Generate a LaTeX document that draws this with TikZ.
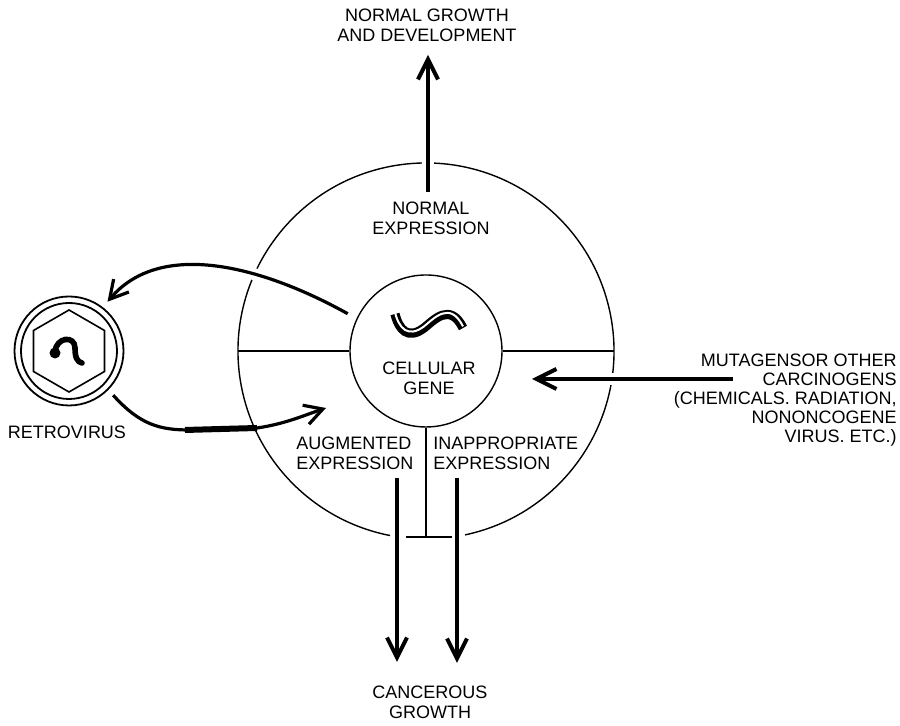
\documentclass[tikz,border=0pt]{standalone}
\usepackage{fontspec}
\setmainfont{Liberation Sans}
\usetikzlibrary{arrows.meta}

\begin{document}
\begin{tikzpicture}[x=0.5pt,y=0.5pt,
    lbl/.style={font=\fontsize{9}{10}\selectfont, inner sep=0pt, align=center},
    ring/.style={line width=0.7pt},
    bigarrow/.style={line width=2pt, -{Straight Barb[length=10pt,width=10pt]}},
    curvearrow/.style={line width=1.6pt, -{Straight Barb[length=9pt,width=10pt]}},
    halo/.style={preaction={draw=white, line width=6pt, -}}]
\useasboundingbox (0,0) rectangle (900,726);

\coordinate (cell) at (426,375);
\coordinate (ringW) at (238,375);
\coordinate (ringE) at (614,375);
\coordinate (tick) at (426,189);

\node[circle, draw, ring, minimum size=76pt, inner sep=0pt] (gene) at (cell) {};
\draw[ring] (cell) ++(-78:188) arc[start angle=-78, end angle=259, radius=188];
\draw[line width=0.9pt] (ringW) -- (gene.west);
\draw[line width=0.9pt] (gene.east) -- (ringE);
\draw[ring] (gene.south) -- (tick);
\draw[ring] (tick) ++(-20,0) -- ++(46,0);

\draw[line width=4.6pt] (395,412) .. controls (399,396) and (408,386) .. (424,398) .. controls (434,406) and (450,424) .. (463,398);
\draw[white, line width=1pt, yshift=0.8pt] (395,412) .. controls (399,396) and (408,386) .. (424,398) .. controls (434,406) and (450,424) .. (463,398);

\node[circle, draw, line width=0.9pt, minimum size=54.5pt, inner sep=0pt, outer sep=4pt] (virus) at (69,375) {};
\draw[line width=0.9pt] (virus) circle[radius=48];
\draw[line width=0.8pt] (virus) ++(90:41) -- ++(210:41) -- ++(270:41) -- ++(330:41) -- ++(30:41) -- ++(90:41) -- cycle;
\draw[line width=2.8pt, line cap=round] (55,374) .. controls (56,389) and (75,391) .. (75,378) .. controls (75,369) and (77,364) .. (82,363);
\fill (55,373) circle[radius=5.5];

\node[lbl] (grow) at (427,701) {NORMAL GROWTH\\AND DEVELOPMENT};
\node[lbl] (normexp) at (431,508) {NORMAL\\EXPRESSION};
\node[lbl] (genetxt) at (429,348) {CELLULAR\\GENE};
\node[lbl, anchor=west, align=left] (aug) at (296,273) {AUGMENTED\\EXPRESSION};
\node[lbl, anchor=west, align=left] (inapp) at (433,273) {INAPPROPRIATE\\EXPRESSION};
\node[lbl, anchor=east, align=right, font=\fontsize{9}{9.6}\selectfont] (mut) at (897,326) {MUTAGENSOR OTHER\\CARCINOGENS\hspace*{5pt}\\(CHEMICALS. RADIATION,\\NONONCOGENE\hspace*{6pt}\\VIRUS. ETC.)};
\node[lbl] (cancer) at (430,24) {CANCEROUS\\GROWTH};
\node[lbl] (retro) at (67,294) {RETROVIRUS};

\coordinate (upS) at (428,534);
\coordinate (upT) at (428,671);
\coordinate (mutS) at (733,347);
\coordinate (mutT) at (532,347);
\coordinate (augS) at (397,248);
\coordinate (augT) at (397,64);
\coordinate (inS) at (457,248);
\coordinate (inT) at (457,63);
\coordinate (augIn) at (326,318);

\draw[bigarrow, halo] (upS) -- (upT);
\draw[bigarrow, halo] (mutS) -- (mutT);
\draw[bigarrow] (augS) -- (augT);
\draw[bigarrow] (inS) -- (inT);

\draw[curvearrow, halo, shorten <=5pt] (gene.155) .. controls (260,461) and (160,486) .. (virus.52);
\draw[curvearrow] (virus.-45) .. controls (140,301) and (160,296) .. (190,296) -- (257,298) .. controls (285,302) and (305,311) .. (augIn);
\draw[line width=3pt] (185,296) -- (257,298);
\end{tikzpicture}
\end{document}
